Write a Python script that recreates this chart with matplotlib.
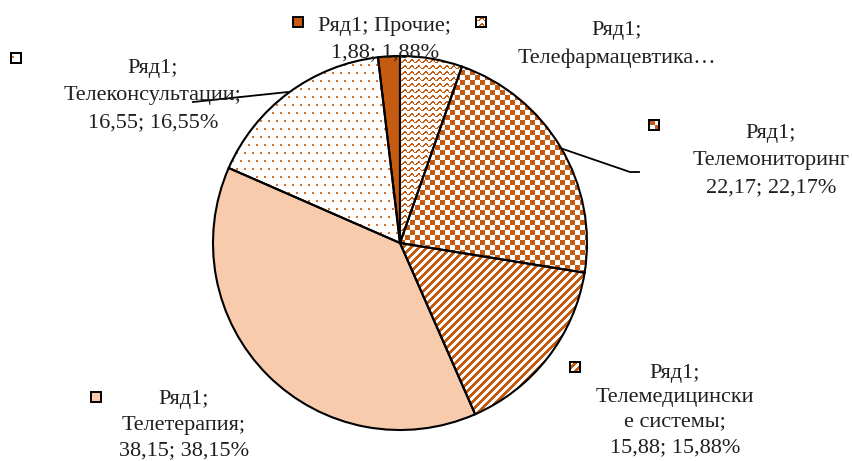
import numpy as np
import matplotlib
matplotlib.use("Agg")
import matplotlib.pyplot as plt
from matplotlib.patches import Wedge, Rectangle

# ---- data ----
categories = ["Телефармацевтика", "Телемониторинг", "Телемедицинские системы",
              "Телетерапия", "Телеконсультации", "Прочие"]
values = [5.37, 22.17, 15.88, 38.15, 16.55, 1.88]
series_name = "Ряд1"
label_lines = [
    ["Ряд1;", "Телефармацевтика…"],
    ["Ряд1;", "Телемониторинг", "22,17; 22,17%"],
    ["Ряд1;", "Телемедицински", "е системы;", "15,88; 15,88%"],
    ["Ряд1;", "Телетерапия;", "38,15; 38,15%"],
    ["Ряд1;", "Телеконсультации;", "16,55; 16,55%"],
    ["Ряд1; Прочие;", "1,88; 1,88%"],
]

W, H = 852, 461
DARK = np.array([0xC5, 0x5A, 0x11]) / 255
PEACH = "#F8CBAD"
DOTC = np.array([0xD8, 0x70, 0x2A]) / 255
TXT = "#1f1f1f"

plt.rcParams['font.family'] = ['Liberation Serif', 'DejaVu Serif']

fig = plt.figure(figsize=(W / 100, H / 100), dpi=100)
ax = fig.add_axes([0, 0, 1, 1])

cx, cy, R = 400, H - 243, 187
wedges, _ = ax.pie(values, startangle=90, counterclock=False, center=(cx, cy), radius=R,
                   colors=["white", "white", "white", PEACH, "white", tuple(DARK)],
                   wedgeprops=dict(edgecolor="none", linewidth=0))
ax.set_xlim(0, W)
ax.set_ylim(0, H)
ax.set_aspect('auto')
ax.axis('off')

# ---- pattern images (pixel grid, origin upper) ----
Y, X = np.mgrid[0:H, 0:W]


def rgba_from_mask(mask, color):
    img = np.ones((H, W, 4))
    img[mask, 0:3] = color
    return img


wavy = ((Y - 1.3 * np.sin(2 * np.pi * X / 7.0)) % 6) < 1.6
checker = ((X // 5 + Y // 5) % 2) == 0
stripes = ((X + Y) % 8) < 4
dots = (((Y % 8) < 2) & (((X + 4 * ((Y // 8) % 2)) % 8) < 2))
patterns = [rgba_from_mask(wavy, DARK), rgba_from_mask(checker, DARK),
            rgba_from_mask(stripes, DARK), None, rgba_from_mask(dots, DOTC), None]

for w, pat in zip(wedges, patterns):
    if pat is not None:
        im = ax.imshow(pat, extent=(0, W, 0, H), origin='upper', interpolation='nearest', zorder=2)
        im.set_clip_path(w)
    ax.add_patch(Wedge(w.center, w.r, w.theta1, w.theta2, fill=False,
                       edgecolor="black", linewidth=1.5, zorder=3))
ax.set_xlim(0, W)
ax.set_ylim(0, H)

# ---- legend keys and labels ----
key_pos = [(481, 22), (654, 125), (575, 367), (96, 397), (16, 58), (298, 22)]
label_cx = [617, 771, 675, 184, 153, 385]
label_base = [[35, 63], [138, 165, 192], [378, 402, 426, 452], [404, 430, 455],
              [73, 100, 127], [31, 57]]
key_face = ["white", "white", "white", PEACH, "white", tuple(DARK)]
ks = 10
for i in range(len(values)):
    kx, ky = key_pos[i]
    ax.add_patch(Rectangle((kx - ks / 2, H - ky - ks / 2), ks, ks, facecolor=key_face[i],
                           edgecolor="black", linewidth=1.4, zorder=5))
    if patterns[i] is not None:
        inner = Rectangle((kx - ks / 2, H - ky - ks / 2), ks, ks, transform=ax.transData)
        im = ax.imshow(patterns[i], extent=(0, W, 0, H), origin='upper',
                       interpolation='nearest', zorder=5.5)
        im.set_clip_path(inner)
        ax.add_patch(Rectangle((kx - ks / 2, H - ky - ks / 2), ks, ks, fill=False,
                               edgecolor="black", linewidth=1.4, zorder=6))
    for line, b in zip(label_lines[i], label_base[i]):
        ax.text(label_cx[i], H - b, line, ha='center', va='baseline', fontsize=16,
                color=TXT, zorder=7)

# ---- leader lines ----
ax.plot([193, 288], [H - 102, H - 92], color="black", linewidth=1.3, zorder=4)
ax.plot([560, 630, 639], [H - 148, H - 172, H - 172], color="black", linewidth=1.3, zorder=4)
ax.set_xlim(0, W)
ax.set_ylim(0, H)

fig.savefig("out.png", dpi=100)
